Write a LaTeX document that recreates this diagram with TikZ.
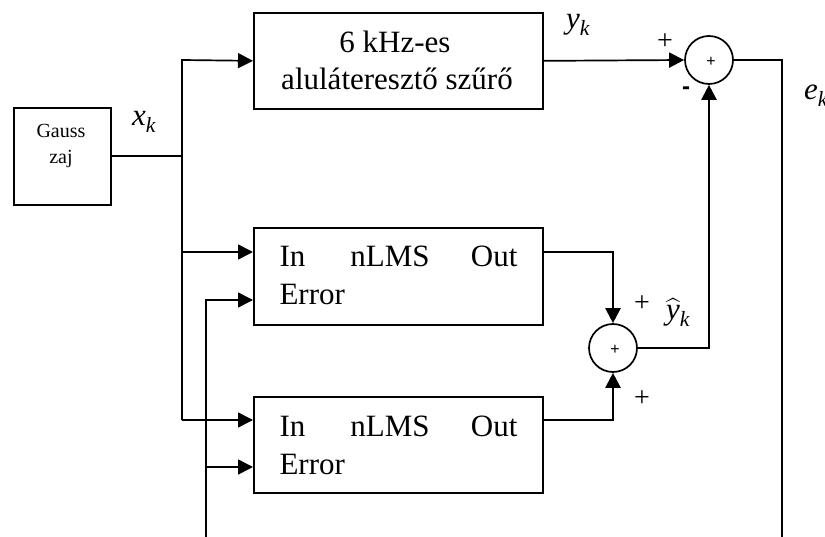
\documentclass[tikz,border=0pt]{standalone}
\usepackage{amsmath}
\usepackage{fontspec}
\setmainfont{Liberation Serif}
\newfontfamily\sansf{Liberation Sans}
\usetikzlibrary{arrows.meta}
\tikzset{
  wire/.style={line width=1.7pt},
  arr/.style={wire,-{Triangle[length=15pt,width=15pt]}},
  thickarr/.style={line width=2.3pt,-{Triangle[length=15pt,width=15pt]}},
  box/.style={draw,line width=1.7pt,anchor=north west,inner sep=0pt},
  sumnode/.style={draw,circle,line width=1.7pt,minimum size=48pt,inner sep=0pt},
  big/.style={font=\fontsize{31}{36}\selectfont},
  small/.style={font=\fontsize{20}{23}\selectfont},
  sgn/.style={font=\fontsize{28}{30}\selectfont,inner sep=0pt},
}
\begin{document}
\begin{tikzpicture}[x=1pt,y=-1pt]
\useasboundingbox (0,0) rectangle (825,537);
% blocks
\node[box,minimum width=97pt,minimum height=97pt] (gauss) at (13,107) {};
\node[small,anchor=base] (gt1) at (61,138) {Gauss};
\node[small,anchor=base] (gt2) at (61,164) {zaj};
\node[box,minimum width=289pt,minimum height=96pt] (filt) at (253,12) {};
\node[big,anchor=base] (ft1) at (395,53) {6 kHz-es};
\node[big,anchor=base] (ft2) at (397,90) {aluláteresztő szűrő};
\node[box,minimum width=289pt,minimum height=97pt] (n1) at (253,227) {};
\node[big,anchor=base west] (n1a) at (276,267) {In};
\node[big,anchor=base] (n1b) at (390,267) {nLMS};
\node[big,anchor=base east] (n1c) at (521,267) {Out};
\node[big,anchor=base west] (n1d) at (276,305) {Error};
\node[box,minimum width=289pt,minimum height=96pt] (n2) at (253,396) {};
\node[big,anchor=base west] (n2a) at (276,436) {In};
\node[big,anchor=base] (n2b) at (390,436) {nLMS};
\node[big,anchor=base east] (n2c) at (521,436) {Out};
\node[big,anchor=base west] (n2d) at (276,474) {Error};
% summing junctions
\node[sumnode] (s1) at (709,60) {};
\node[font=\sansf\fontsize{16}{16}\selectfont] (s1p) at (711,62) {+};
\node[sumnode] (s2) at (613,348) {};
\node[font=\sansf\fontsize{16}{16}\selectfont] (s2p) at (615,350) {+};
% labels
\node[big,anchor=base west,inner sep=0pt] (xk) at (132,126) {$\mathit{x}_{\mathit{k}}$};
\node[big,anchor=base west,inner sep=0pt] (yk) at (566,29) {$\mathit{y}_{\mathit{k}}$};
\node[big,anchor=base west,inner sep=0pt] (ek) at (804,100) {$\mathit{e}_{\mathit{k}}$};
\node[big,anchor=base west,inner sep=0pt] (yh) at (666,320) {$\widehat{\mathit{y}}_{\mathit{k}}$};
\node[sgn,anchor=center] (p1) at (665,42) {+};
\node[font=\sansf\fontsize{24}{24}\selectfont\bfseries,anchor=center,inner sep=0pt] (m1) at (686,91) {-};
\node[sgn,anchor=center] (p2) at (642,304) {+};
\node[sgn,anchor=center] (p3) at (642,399) {+};
% coordinates
\coordinate (bt) at (182,60);
\coordinate (bg) at (182,156);
\coordinate (bb) at (182,420);
\coordinate (e1) at (206,300);
\coordinate (e2) at (206,467);
\coordinate (eb) at (206,537);
\coordinate (i1) at (253,252);
\coordinate (i2) at (253,420);
\coordinate (o1) at (542,252);
\coordinate (o2) at (542,420);
\coordinate (eo) at (782,537);
% wires
\draw[wire] (gauss.east|-bg) -- (bg);
\draw[arr] (bb) -- (bt) -- (filt.west);
\draw[arr] (i1-|bt) -- (i1);
\draw[arr] (bb) -- (i2);
\draw[arr] (eb) -- (e1) -- (e1-|n1.west);
\draw[arr] (e2) -- (e2-|n2.west);
\draw[arr] (filt.east) -- (s1.west);
\draw[thickarr] (o1) -| (s2.north);
\draw[thickarr] (o2) -| (s2.south);
\draw[thickarr] (s2.east) -| (s1.south);
\draw[wire] (s1.east) -| (eo);
\end{tikzpicture}
\end{document}
